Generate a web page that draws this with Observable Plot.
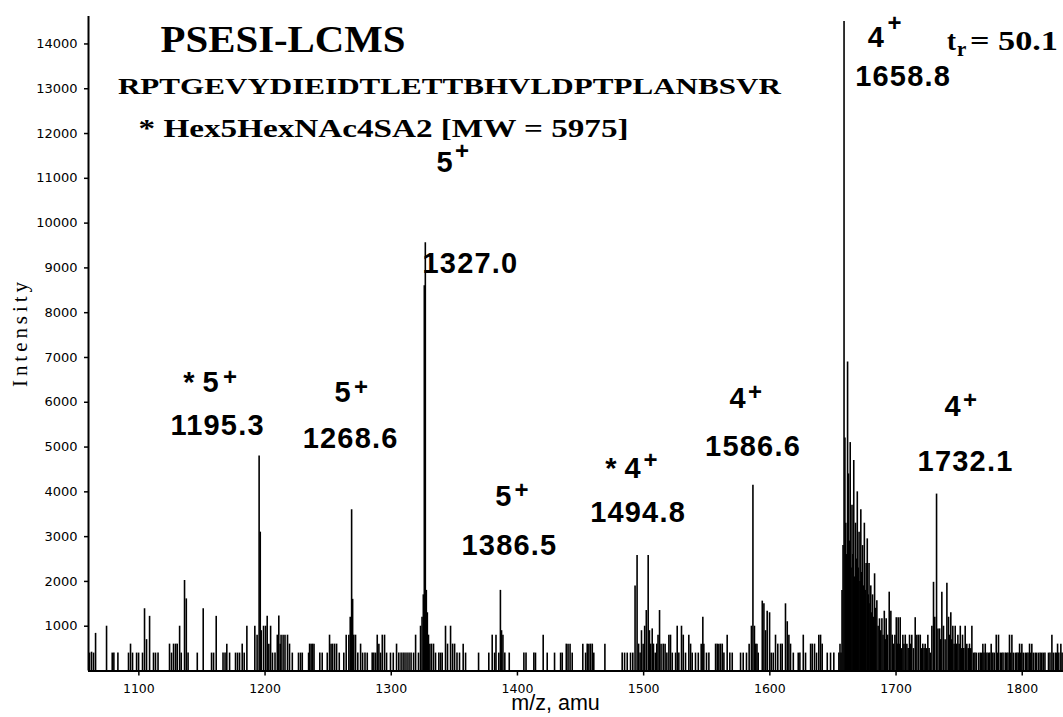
<!DOCTYPE html>
<html>
<head>
<meta charset="utf-8">
<script src="https://cdn.jsdelivr.net/npm/d3@7"></script>
<script src="https://cdn.jsdelivr.net/npm/@observablehq/plot@0.6"></script>
<style>
  html, body { margin: 0; padding: 0; background: #fff; }
  #chart svg { display: block; }
  #chart g[aria-description="peak number"] text { letter-spacing: 1.2px; }
  #chart g[aria-label="y-axis tick label"] text { font-size: 13px !important; font-family: 'DejaVu Sans', sans-serif !important; }
  #chart g[aria-label="x-axis tick label"] text { font-size: 12.5px !important; font-family: 'DejaVu Sans', sans-serif !important; }
</style>
</head>
<body>
<div id="chart"></div>
<script>
// Mass spectrum: [m/z, intensity] for every recorded line
const spectrum = [
  [1060.9,400],[1062.5,420],[1064.1,400],[1065.7,840],[1074.4,1000],[1078.9,400],[1080.2,400],[1083.4,400],
  [1091.8,400],[1093.4,600],[1095.0,400],[1098.2,400],[1099.8,400],[1102.9,400],[1104.5,1390],[1106.1,700],
  [1108.5,1220],[1111.6,400],[1113.2,400],[1115.2,400],[1124.3,600],[1125.9,400],[1127.5,600],[1129.1,600],
  [1130.4,600],[1132.3,1000],[1133.6,400],[1136.2,2020],[1137.6,1610],[1139.0,400],[1146.3,400],[1151.0,1390],
  [1157.6,400],[1159.2,400],[1161.3,1220],[1166.7,400],[1168.3,400],[1169.7,600],[1171.9,400],[1176.6,400],
  [1178.2,400],[1179.8,400],[1181.9,600],[1183.5,400],[1185.6,1000],[1191.9,1000],[1193.7,800],[1195.3,4800],
  [1196.2,3100],[1197.0,900],[1198.8,1000],[1200.4,1000],[1201.7,1220],[1203.0,600],[1204.4,1000],[1205.9,400],
  [1207.9,400],[1209.7,800],[1210.9,1230],[1212.0,600],[1212.7,800],[1214.3,800],[1215.8,800],[1217.8,800],
  [1219.4,600],[1221.6,400],[1226.5,400],[1228.1,400],[1229.5,400],[1234.5,400],[1235.3,600],[1236.5,600],
  [1237.6,600],[1238.8,600],[1243.4,400],[1245.3,400],[1249.3,400],[1251.1,800],[1252.3,600],[1253.5,600],
  [1255.1,600],[1256.7,600],[1258.8,400],[1262.4,400],[1264.3,800],[1266.4,800],[1267.5,1200],[1268.6,3600],
  [1269.4,1600],[1270.3,800],[1271.7,800],[1273.5,400],[1275.7,600],[1277.3,400],[1279.2,400],[1281.0,400],
  [1284.9,400],[1286.2,400],[1287.6,400],[1288.9,800],[1290.2,600],[1291.5,400],[1292.9,800],[1294.7,800],
  [1296.3,400],[1299.4,400],[1301.6,400],[1304.2,600],[1306.0,400],[1307.8,400],[1309.4,400],[1310.9,400],
  [1312.5,400],[1314.1,400],[1315.7,400],[1317.7,400],[1319.3,800],[1321.6,400],[1323.2,1000],[1324.4,1200],
  [1325.4,1700],[1326.2,8600],[1327.0,9560],[1327.8,1800],[1328.6,1300],[1329.5,800],[1330.6,600],[1331.9,600],
  [1333.5,600],[1335.1,400],[1337.7,400],[1339.1,400],[1340.4,400],[1343.0,1000],[1344.6,600],[1347.0,1000],
  [1348.6,600],[1350.2,600],[1352.1,400],[1354.1,400],[1357.0,600],[1358.9,400],[1369.2,400],[1377.3,400],
  [1380.0,800],[1381.9,400],[1383.0,800],[1385.2,400],[1386.5,1800],[1387.4,900],[1388.5,800],[1390.0,400],
  [1393.5,400],[1405.1,400],[1406.8,400],[1413.0,400],[1414.3,400],[1420.4,800],[1423.6,400],[1429.4,400],
  [1434.2,400],[1435.5,400],[1438.7,600],[1440.1,600],[1441.7,600],[1443.4,400],[1451.8,600],[1454.0,400],
  [1455.3,600],[1456.6,600],[1457.9,600],[1459.3,600],[1460.5,400],[1469.3,600],[1483.0,400],[1484.9,400],
  [1487.0,400],[1489.6,400],[1491.4,400],[1493.2,1900],[1494.8,2580],[1496.0,600],[1497.2,400],[1498.3,900],
  [1499.6,600],[1500.8,1000],[1502.1,1350],[1503.6,2580],[1504.6,900],[1505.6,600],[1506.8,940],[1507.8,600],
  [1509.2,400],[1510.4,600],[1511.4,800],[1512.6,1350],[1513.8,600],[1515.5,600],[1517.0,600],[1518.4,400],
  [1520.0,800],[1521.3,800],[1522.7,400],[1525.3,400],[1526.6,1000],[1527.9,400],[1530.0,1000],[1531.4,800],
  [1533.2,400],[1535.8,800],[1537.2,600],[1538.5,400],[1541.1,400],[1543.3,400],[1545.6,600],[1546.9,1200],
  [1547.7,600],[1549.8,400],[1551.7,400],[1557.0,600],[1558.3,600],[1559.6,600],[1560.9,600],[1562.3,600],
  [1563.6,400],[1566.2,800],[1568.3,400],[1570.2,400],[1576.8,400],[1578.9,400],[1581.5,400],[1583.6,600],
  [1585.4,1000],[1586.6,4150],[1587.8,1000],[1588.8,600],[1589.8,600],[1590.8,400],[1594.0,1560],[1595.3,1500],
  [1596.6,900],[1597.9,1335],[1599.8,1300],[1601.1,400],[1602.7,400],[1604.5,800],[1606.3,600],[1608.5,600],
  [1609.8,600],[1612.4,1500],[1613.8,1100],[1615.1,800],[1616.4,600],[1618.6,400],[1622.5,400],[1623.8,400],
  [1626.5,800],[1628.3,400],[1632.3,600],[1633.6,600],[1635.4,600],[1637.0,400],[1638.8,800],[1640.2,800],
  [1641.5,600],[1645.5,400],[1648.1,400],[1650.7,400],[1654.7,400],[1655.6,600],[1656.4,400],[1657.2,1800],
  [1658.0,2800],[1658.8,14500],[1659.5,5200],[1660.2,3300],[1660.9,2600],[1661.6,6900],[1662.3,4400],[1663.0,2900],
  [1663.7,5100],[1664.4,2300],[1665.1,3700],[1665.8,2600],[1666.5,4700],[1667.2,2100],[1667.9,3300],[1668.6,2500],
  [1669.3,4000],[1670.0,2300],[1670.7,3100],[1671.4,2000],[1672.1,3600],[1672.8,2200],[1673.5,2800],[1674.2,1900],
  [1674.9,3300],[1675.6,1800],[1676.3,2400],[1677.2,2950],[1678.0,1700],[1678.6,2400],[1679.3,1500],[1680.0,1900],
  [1680.7,1300],[1681.4,1700],[1682.1,1200],[1683.0,2170],[1683.8,1400],[1684.8,1570],[1685.8,1000],[1686.9,1165],
  [1687.8,900],[1688.8,1165],[1689.7,800],[1690.7,1335],[1691.5,700],[1692.2,1165],[1693.3,800],[1694.6,1760],
  [1695.9,1335],[1697.0,800],[1698.0,600],[1699.1,800],[1700.2,1190],[1701.0,600],[1701.7,1190],[1702.5,600],
  [1703.3,1190],[1704.3,500],[1705.4,800],[1706.3,600],[1707.3,800],[1708.6,600],[1709.6,500],[1710.7,800],
  [1711.6,600],[1712.5,800],[1713.8,500],[1715.2,1190],[1716.5,800],[1717.8,800],[1719.2,800],[1720.2,500],
  [1721.2,600],[1722.2,500],[1723.1,600],[1724.2,500],[1725.2,800],[1726.2,500],[1727.1,400],[1728.4,1000],
  [1729.7,1980],[1730.7,1200],[1732.1,3950],[1733.2,940],[1734.5,940],[1735.4,700],[1736.3,1760],[1737.6,1000],
  [1738.9,700],[1740.3,1960],[1741.6,1200],[1742.5,800],[1743.4,1300],[1744.2,700],[1745.0,1000],[1746.0,600],
  [1746.9,1000],[1748.0,600],[1749.0,800],[1750.0,600],[1750.9,1000],[1751.8,500],[1752.7,800],[1753.7,500],
  [1754.8,1000],[1756.1,600],[1757.2,500],[1758.2,600],[1759.2,500],[1760.1,1000],[1761.4,400],[1762.5,400],
  [1763.6,400],[1765.4,400],[1766.7,400],[1767.8,400],[1768.8,600],[1769.7,400],[1770.7,600],[1772.0,400],
  [1773.2,400],[1774.3,400],[1775.4,600],[1776.7,400],[1777.9,400],[1779.4,800],[1780.3,400],[1781.2,800],
  [1782.6,400],[1783.7,400],[1784.8,400],[1786.5,400],[1787.6,400],[1788.7,400],[1789.9,800],[1790.8,400],
  [1791.8,800],[1792.9,400],[1794.5,400],[1795.7,400],[1796.8,400],[1797.9,600],[1798.8,400],[1799.7,600],
  [1800.8,400],[1802.4,400],[1803.5,400],[1804.6,400],[1805.8,600],[1806.7,400],[1807.6,600],[1808.8,400],
  [1810.3,400],[1811.4,400],[1812.9,400],[1814.2,400],[1815.5,400],[1816.7,400],[1818.0,400],[1820.8,400],
  [1822.0,400],[1823.5,800],[1824.6,400],[1826.2,400],[1827.1,400],[1828.0,600],[1829.0,400],[1830.6,600],
  [1831.6,400]
];

// Assigned ions
const peakMz = [1195.3, 1268.6, 1327.0, 1386.5, 1494.8, 1586.6, 1658.8, 1732.1];
const peakCharge = ["* 5", "5", "5", "5", "* 4", "4", "4", "4"];

// Axis ticks
const xTicks = [1100, 1200, 1300, 1400, 1500, 1600, 1700, 1800];
const yTicks = [1000, 2000, 3000, 4000, 5000, 6000, 7000, 8000, 9000, 10000, 11000, 12000, 13000, 14000];

// Header text
const titleText = "PSESI-LCMS";
const sequenceText = "RPTGEVYDIEIDTLETTBHVLDPTPLANBSVR";
const glycanText = "* Hex5HexNAc4SA2 [MW = 5975]";
const retentionValue = "= 50.1";
const xLabel = "m/z, amu";
const yLabel = "Intensity";

// Where each ion annotation sits (m/z, intensity of its baseline)
const labelLayout = [
  {numX: 1162.4, numY: 5280,  chgX: 1163.2, chgY: 6225,  plusX: 1172.3, plusY: 6385},
  {numX: 1267.8, numY: 4983,  chgX: 1267.8, chgY: 6001,  plusX: 1276.1, plusY: 6171},
  {numX: 1362.8, numY: 8897,  chgX: 1348.6, chgY: 11152, plusX: 1356.1, plusY: 11436},
  {numX: 1393.7, numY: 2601,  chgX: 1395.3, chgY: 3684,  plusX: 1403.3, plusY: 3856},
  {numX: 1495.6, numY: 3322,  chgX: 1497.6, chgY: 4320,  plusX: 1505.5, plusY: 4537},
  {numX: 1586.7, numY: 4811,  chgX: 1580.8, chgY: 5861,  plusX: 1588.3, plusY: 6055},
  {numX: 1705.6, numY: 13072, chgX: 1690.3, chgY: 13927, plusX: 1698.8, plusY: 14300},
  {numX: 1755.1, numY: 4476,  chgX: 1751.1, chgY: 5704,  plusX: 1758.6, plusY: 5876}
];

const labels = peakMz.map((mz, i) => ({
  num: mz.toFixed(1),
  charge: peakCharge[i],
  ...labelLayout[i]
}));

const lines = spectrum.map(([mz, intensity]) => ({mz, intensity}));

const xDomain = [1060.1, 1832.7];
const yDomain = [0, 14613];
const serif = "'Liberation Serif', 'Times New Roman', serif";
const sans = "'Liberation Sans', Arial, sans-serif";
const tickFont = "'DejaVu Sans', sans-serif";

const chart = Plot.plot({
  width: 1063,
  height: 717,
  marginLeft: 88,
  marginRight: 0,
  marginTop: 16,
  marginBottom: 46.5,
  style: {background: "white", color: "black"},
  x: {domain: xDomain},
  y: {domain: yDomain},
  marks: [
    Plot.ruleX(lines, {x: "mz", y1: 0, y2: "intensity", stroke: "black", strokeWidth: 1.6}),
    Plot.ruleX([xDomain[0]], {stroke: "black", strokeWidth: 2}),
    Plot.ruleY([0], {stroke: "black", strokeWidth: 2}),
    Plot.axisY({ticks: yTicks, tickFormat: "d", tickSize: 4, tickPadding: 7, label: null,
      fontSize: 13, fontFamily: tickFont, strokeWidth: 1.5}),
    Plot.axisX({ticks: xTicks, tickFormat: "d", tickSize: 5, tickPadding: 8, label: null,
      fontSize: 12.5, fontFamily: tickFont, strokeWidth: 1.5}),
    Plot.text([xLabel], {x: 1430.2, y: 0, dy: 39, text: d => d, textAnchor: "middle", lineAnchor: "bottom",
      fontSize: 21.5, fontFamily: sans, fill: "black"}),
    Plot.text([yLabel], {frameAnchor: "left", y: 7513, dx: -61.3, text: d => d, rotate: -90, textAnchor: "middle",
      lineAnchor: "bottom", fontSize: 21, fontFamily: serif, fill: "black", ariaDescription: "y title"}),
    // header
    Plot.text([titleText], {x: 1117.2, y: 13816, text: d => d, textAnchor: "start", lineAnchor: "bottom",
      fontSize: 38, fontWeight: "bold", fontFamily: serif, fill: "black", ariaDescription: "title"}),
    Plot.text([sequenceText], {x: 1083.4, y: 12887, text: d => d, textAnchor: "start", lineAnchor: "bottom",
      fontSize: 23, fontWeight: "bold", fontFamily: serif, fill: "black", ariaDescription: "sequence"}),
    Plot.text([glycanText], {x: 1099.8, y: 11918, text: d => d, textAnchor: "start", lineAnchor: "bottom",
      fontSize: 25, fontWeight: "bold", fontFamily: serif, fill: "black", ariaDescription: "glycan"}),
    Plot.text(["t"], {x: 1740.4, y: 13869, text: d => d, textAnchor: "start", lineAnchor: "bottom",
      fontSize: 27, fontWeight: "bold", fontFamily: serif, fill: "black"}),
    Plot.text(["r"], {x: 1748.3, y: 13742, text: d => d, textAnchor: "start", lineAnchor: "bottom",
      fontSize: 21, fontWeight: "bold", fontFamily: serif, fill: "black"}),
    Plot.text([retentionValue], {x: 1758.6, y: 13869, text: d => d, textAnchor: "start", lineAnchor: "bottom",
      fontSize: 27, fontWeight: "bold", fontFamily: serif, fill: "black", ariaDescription: "retention value"}),
    // ion annotations
    Plot.text(labels, {x: "numX", y: "numY", text: "num", textAnchor: "middle", lineAnchor: "bottom",
      fontSize: 29, fontWeight: "bold", fontFamily: sans, fill: "black", ariaDescription: "peak number"}),
    Plot.text(labels, {x: "chgX", y: "chgY", text: "charge", textAnchor: "end", lineAnchor: "bottom",
      fontSize: 29, fontWeight: "bold", fontFamily: sans, fill: "black", ariaDescription: "peak charge"}),
    Plot.text(labels, {x: "plusX", y: "plusY", text: () => "+", textAnchor: "middle", lineAnchor: "bottom",
      fontSize: 24, fontWeight: "bold", fontFamily: sans, fill: "black", ariaDescription: "peak plus"})
  ]
});

// Stretch the header lines and the axis title to their set widths
const fits = {"title": 245, "sequence": 663, "glycan": 490, "retention value": 88, "y title": 105};
for (const [name, width] of Object.entries(fits)) {
  chart.querySelectorAll(`g[aria-description="${name}"] text`).forEach(t => {
    t.setAttribute("textLength", width);
    t.setAttribute("lengthAdjust", name === "y title" ? "spacing" : "spacingAndGlyphs");
  });
}

document.getElementById("chart").appendChild(chart);
</script>
</body>
</html>
